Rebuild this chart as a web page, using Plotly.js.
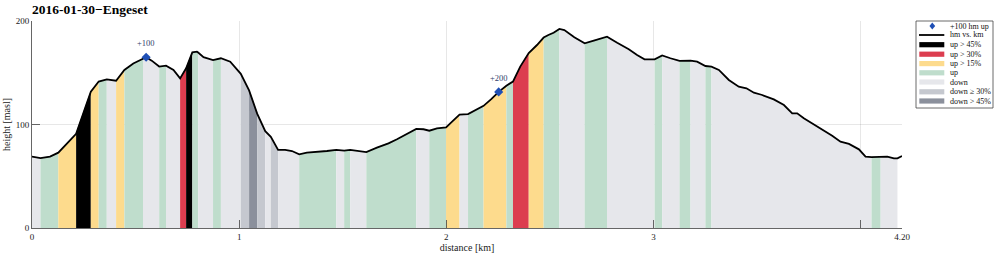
<!DOCTYPE html>
<html><head><meta charset="utf-8">
<script src="https://cdn.plot.ly/plotly-3.0.1.min.js"></script>
<style>html,body{margin:0;padding:0;background:#fff}#chart{width:996px;height:256px}</style>
</head><body><div id="chart"></div>
<script>
// ---- data ----
const distKm = [0, 0.041, 0.087, 0.127, 0.213, 0.248, 0.284, 0.322, 0.361, 0.406, 0.446, 0.489, 0.536, 0.551, 0.578, 0.614, 0.647, 0.683, 0.715, 0.744, 0.774, 0.796, 0.802, 0.828, 0.874, 0.912, 0.957, 1.008, 1.048, 1.087, 1.126, 1.153, 1.188, 1.222, 1.255, 1.290, 1.327, 1.375, 1.424, 1.469, 1.507, 1.536, 1.576, 1.614, 1.665, 1.721, 1.762, 1.810, 1.855, 1.890, 1.918, 1.955, 1.999, 2.028, 2.064, 2.105, 2.140, 2.180, 2.217, 2.253, 2.290, 2.322, 2.357, 2.398, 2.438, 2.470, 2.493, 2.518, 2.546, 2.570, 2.618, 2.668, 2.712, 2.776, 2.825, 2.881, 2.921, 2.957, 3.006, 3.042, 3.082, 3.126, 3.179, 3.211, 3.251, 3.280, 3.316, 3.364, 3.412, 3.449, 3.485, 3.525, 3.581, 3.630, 3.670, 3.694, 3.726, 3.807, 3.863, 3.903, 3.944, 3.992, 4.024, 4.053, 4.097, 4.129, 4.161, 4.178, 4.200];
const elevM = [69, 67.5, 69, 72.8, 91, 112, 131.7, 141.5, 143.6, 142.3, 152.7, 159, 163, 165, 161.7, 156, 156.8, 152.7, 144.6, 154.3, 169.7, 170.4, 169.5, 165, 162.3, 164, 160.7, 149, 133, 110.5, 93.5, 88, 75.5, 75.4, 74.4, 71.2, 72.8, 73.4, 74.4, 75.4, 74.7, 75.4, 74.4, 73.4, 77.6, 81.8, 85.7, 90.5, 95.7, 95.4, 94, 96.3, 97.2, 102.7, 109.5, 110, 113.5, 118, 124.5, 131.5, 137.5, 141.5, 155.9, 169, 176.8, 184, 186.5, 188.7, 192.3, 191.3, 184.3, 178.4, 181, 184.9, 179, 172.7, 167.2, 163, 163, 166.8, 164, 161.4, 161.7, 160.7, 156.5, 155.9, 152.7, 143, 136.5, 135, 130.7, 128.5, 124.3, 118.8, 110.8, 110.8, 106, 96.3, 89.2, 83.4, 81.2, 76, 68.9, 68.5, 68.7, 68.9, 67.3, 67.3, 69.6];

const segEdges = [0, 0.041, 0.127, 0.213, 0.284, 0.322, 0.361, 0.406, 0.446, 0.536, 0.614, 0.647, 0.715, 0.744, 0.774, 0.802, 0.874, 0.912, 1.008, 1.048, 1.087, 1.126, 1.153, 1.188, 1.290, 1.469, 1.507, 1.536, 1.614, 1.855, 1.918, 1.999, 2.064, 2.105, 2.180, 2.290, 2.322, 2.398, 2.470, 2.546, 2.668, 2.776, 3.006, 3.042, 3.126, 3.179, 3.251, 3.280, 4.053, 4.097, 4.178];
const segClass = ['D','U','Y','K','Y','U','D','Y','U','D','U','D','R','K','U','D','U','D','D30','D45','D30','D','D30','D','U','D','U','D','U','D','U','Y','D','U','Y','U','R','Y','U','D','U','D','U','D','U','D','U','D','U','D'];

const bumpDist = [0.551, 2.253];
const bumpElev = [165, 131.5];
const bumpLabel = ['+100', '+200'];

const classOrder = ['K','R','Y','U','D','D30','D45'];
const classLabel = ['up > 45%','up > 30%','up > 15%','up','down','down ≥ 30%','down > 45%'];

const xTickVals = [0, 1, 2, 3, 4, 4.2];
const xTickText = ['0', '1', '2', '3', '', '4.20'];
const yTickVals = [0, 100, 200];
const yTickText = ['0', '100', '200'];

// ---- styles ----
const classColor = {K:'#000000', R:'#DC3D4F', Y:'#FDDB8D', U:'#BFDDCC', D:'#E6E7EB', D30:'#C5C8CF', D45:'#8B909C'};
const FONT = 'Liberation Serif, Times New Roman, serif';

const traces = [];
for (let s = 0; s < segClass.length; s++) {
  const a = segEdges[s], b = segEdges[s+1];
  const xs = [], ys = [];
  for (let i = 0; i < distKm.length; i++) {
    if (distKm[i] >= a - 1e-9 && distKm[i] <= b + 1e-9) { xs.push(distKm[i]); ys.push(elevM[i]); }
  }
  traces.push({type:'scatter', mode:'lines', x:xs, y:ys, fill:'tozeroy',
    fillcolor:classColor[segClass[s]], line:{width:0.6, color:classColor[segClass[s]]},
    hoverinfo:'skip', showlegend:false});
}
traces.push({type:'scatter', mode:'lines', x:distKm, y:elevM, line:{color:'#000', width:1.8}, showlegend:false, name:'hm vs. km'});
traces.push({type:'scatter', mode:'markers', x:bumpDist, y:bumpElev, marker:{symbol:'diamond', size:7, color:'#1F4FB5'}, showlegend:false, name:'+100 hm up'});

const annotations = bumpDist.map((d, i) => ({x:d, y:bumpElev[i], xref:'x', yref:'y', text:bumpLabel[i], showarrow:false, yshift:14, font:{family:FONT, size:8.5, color:'#33416b'}}));

// manual legend (pixel → paper)
const L = 32, T = 21, W = 870, H = 207;
const px = p => (p - L) / W;
const py = p => (T + H - p) / H;
const shapes = [];
shapes.push({type:'rect', xref:'paper', yref:'paper', x0:px(916), x1:px(993), y0:py(21), y1:py(108), line:{color:'#444', width:0.8}, fillcolor:'#fff', layer:'below'});
const dx = 932.3, dy = 26, ds = 3.6;
shapes.push({type:'path', xref:'paper', yref:'paper', path:`M ${px(dx)} ${py(dy-ds)} L ${px(dx+ds*0.8)} ${py(dy)} L ${px(dx)} ${py(dy+ds)} L ${px(dx-ds*0.8)} ${py(dy)} Z`, fillcolor:'#1F4FB5', line:{width:0}});
shapes.push({type:'line', xref:'paper', yref:'paper', x0:px(919), x1:px(944.3), y0:py(35), y1:py(35), line:{color:'#000', width:1.8}});
const rowY = [26, 35, 44.7, 54.2, 63.6, 72.8, 82, 91.8, 101];
const legTexts = ['+100 hm up', 'hm vs. km'].concat(classLabel);
classOrder.forEach((c, k) => {
  const yc = rowY[k+2];
  shapes.push({type:'rect', xref:'paper', yref:'paper', x0:px(919.3), x1:px(944.3), y0:py(yc-2.6), y1:py(yc+2.6), fillcolor:classColor[c], line:{width:0}});
});
legTexts.forEach((t, k) => {
  annotations.push({xref:'paper', yref:'paper', x:px(947.5), y:py(rowY[k]), xanchor:'left', yanchor:'middle', text:t, showarrow:false, font:{family:FONT, size:8, color:'#111'}});
});

const layout = {
  width:996, height:256,
  margin:{l:L, r:996-L-W, t:T, b:256-T-H, pad:0},
  paper_bgcolor:'#fff', plot_bgcolor:'#fff',
  font:{family:FONT, size:9, color:'#222'},
  title:{text:'<b>2016-01-30−Engeset</b>', x:px(32), xref:'paper', xanchor:'left', y:1-9/256, yref:'container', yanchor:'middle', font:{family:FONT, size:13.5, color:'#000'}},
  xaxis:{range:[0, 4.2], tickvals:xTickVals, ticktext:xTickText, ticks:'inside', ticklen:8, tickcolor:'#444', tickwidth:0.8,
    showline:true, linecolor:'#666', linewidth:1, showgrid:true, gridcolor:'rgba(0,0,0,0.12)', gridwidth:0.8, zeroline:false, layer:'above traces',
    tickfont:{family:FONT, size:9, color:'#222'},
    title:{text:'distance [km]', font:{family:FONT, size:10, color:'#222'}, standoff:2}},
  yaxis:{range:[0, 200], tickvals:yTickVals, ticktext:yTickText, ticks:'inside', ticklen:8, tickcolor:'#444', tickwidth:0.8,
    showline:true, linecolor:'#666', linewidth:1, showgrid:true, gridcolor:'rgba(0,0,0,0.12)', gridwidth:0.8, zeroline:false, layer:'above traces',
    tickfont:{family:FONT, size:9, color:'#222'},
    title:{text:'height [masl]', font:{family:FONT, size:10, color:'#222'}, standoff:3}},
  showlegend:false,
  shapes:shapes,
  annotations:annotations
};
Plotly.newPlot('chart', traces, layout, {staticPlot:true, displayModeBar:false});
</script></body></html>
